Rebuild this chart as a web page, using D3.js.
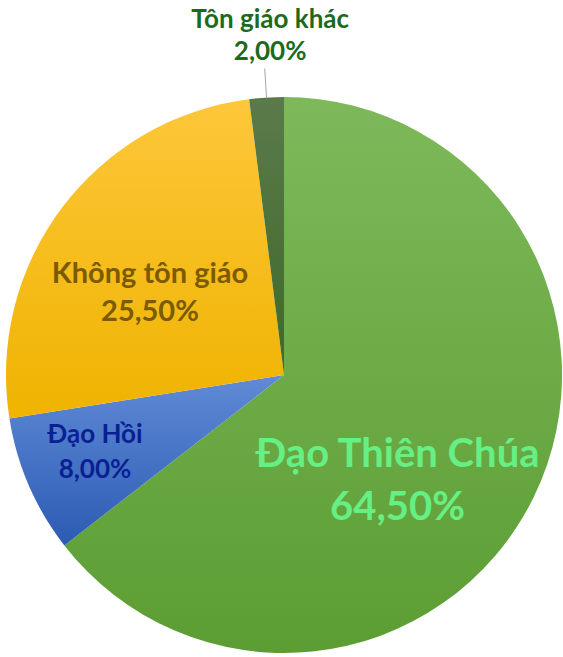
<!DOCTYPE html>
<html>
<head>
<meta charset="utf-8">
<script src="https://cdn.jsdelivr.net/npm/d3@7"></script>
<style>
  body { margin: 0; background: #fff; }
  svg text { font-family: Lato, "Open Sans", sans-serif; font-weight: bold; }
</style>
</head>
<body>
<svg width="563" height="657"></svg>
<script>
// Data
var categories = ["Đạo Thiên Chúa", "Đạo Hồi", "Không tôn giáo", "Tôn giáo khác"];
var shares = [64.5, 8.0, 25.5, 2.0];

// Slice gradients (top colour, bottom colour) and label colours
var sliceTop = ["#7db95a", "#5f8bd6", "#fdc73a", "#5b7a4b"];
var sliceBottom = ["#5c9d33", "#2c5bb3", "#efb300", "#3e6a29"];
var labelColors = ["#66ef84", "#0a1f93", "#7a5b00", "#1c6b1c"];
var labelSizes = [40, 26, 29, 26];
var lineGaps = [53, 35, 38, 32];

var svg = d3.select("svg");
var cx = 284, cy = 375, radius = 278;

var data = categories.map(function(c, i) {
    return { name: c, value: shares[i], i: i };
});

var pie = d3.pie()
    .value(function(d) { return d.value; })
    .sort(null);

var arcs = pie(data);

var arc = d3.arc().innerRadius(0).outerRadius(radius);

// gradients
var defs = svg.append("defs");
arcs.forEach(function(a, i) {
    var g = defs.append("linearGradient")
        .attr("id", "grad" + i)
        .attr("x1", 0).attr("y1", 0)
        .attr("x2", 0).attr("y2", 1);
    g.append("stop").attr("offset", "0%").attr("stop-color", sliceTop[i]);
    g.append("stop").attr("offset", "100%").attr("stop-color", sliceBottom[i]);
});

var chart = svg.append("g")
    .attr("transform", "translate(" + cx + "," + cy + ")");

chart.selectAll("path.slice")
    .data(arcs)
    .enter()
    .append("path")
    .attr("class", "slice")
    .attr("d", arc)
    .attr("fill", function(d) { return "url(#grad" + d.index + ")"; });

// label placement: angle offset (deg) from slice middle and radius fraction
var labelPlace = [
    { dAngle: 20.1, r: 0.590 },
    { dAngle: -0.9, r: 0.746 },
    { dAngle: -8.3, r: 0.549 },
    { dAngle: 1.2, r: 1.192 }
];

function fmt(v) {
    return d3.format(".2f")(v).replace(".", ",") + "%";
}

var labels = chart.selectAll("g.label")
    .data(arcs)
    .enter()
    .append("g")
    .attr("class", "label")
    .attr("transform", function(d) {
        var p = labelPlace[d.index];
        var mid = (d.startAngle + d.endAngle) / 2 + p.dAngle * Math.PI / 180;
        var rr = radius * p.r;
        return "translate(" + (rr * Math.sin(mid)) + "," + (-rr * Math.cos(mid)) + ")";
    });

labels.each(function(d) {
    var g = d3.select(this);
    var s = labelSizes[d.index];
    var gap = lineGaps[d.index];
    var t = g.append("text")
        .attr("text-anchor", "middle")
        .attr("fill", labelColors[d.index])
        .style("font-size", s + "px");
    t.append("tspan").attr("x", 0).attr("y", -gap / 2).text(d.data.name);
    t.append("tspan").attr("x", 0).attr("y", gap / 2).text(fmt(d.data.value));
});

// leader line for the small slice
var small = arcs[3];
var smid = (small.startAngle + small.endAngle) / 2;
chart.append("line")
    .attr("x1", radius * Math.sin(smid))
    .attr("y1", -radius * Math.cos(smid))
    .attr("x2", radius * 1.105 * Math.sin(smid))
    .attr("y2", -radius * 1.105 * Math.cos(smid))
    .attr("stroke", "#a6a6a6")
    .attr("stroke-width", 1);
</script>
</body>
</html>
